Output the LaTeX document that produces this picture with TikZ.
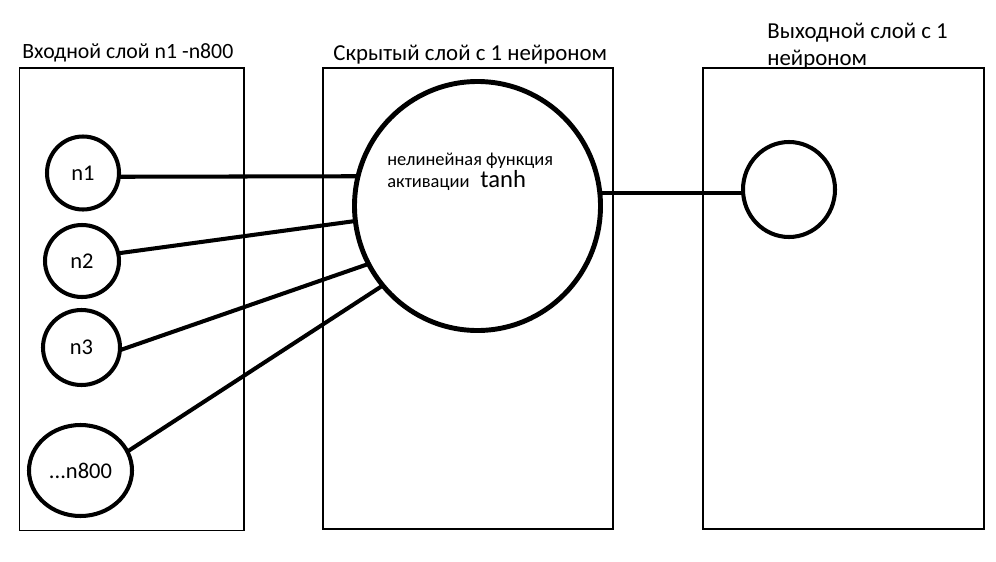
\documentclass[tikz,border=0pt]{standalone}
\usepackage{fontspec}
\setmainfont{Carlito}
\usetikzlibrary{shapes.geometric}
\begin{document}
\begin{tikzpicture}[x=0.02cm,y=-0.02cm,
  layerbox/.style={draw,line width=0.6pt},
  neuron/.style={ellipse,draw,line width=2.3pt,inner sep=0pt,outer sep=0pt,font=\fontsize{12.8}{14}\selectfont},
  conn/.style={line width=2.3pt},
  heading/.style={anchor=base west,inner sep=0pt,font=\fontsize{13}{15}\selectfont,align=left},
  small/.style={anchor=base west,inner sep=0pt,font=\fontsize{10.5}{12}\selectfont}]
\useasboundingbox (0,0) rectangle (996,561);
\fill[white] (0,0) rectangle (996,561);
% boxes
\draw[layerbox] (19.5,68) rectangle (244,530.5);
\draw[layerbox] (323,68) rectangle (613,529);
\draw[layerbox] (703,68) rectangle (984,529);
% headings
\node[heading,font=\fontsize{12.4}{14.5}\selectfont] (h1) at (22,58) {Входной слой n1 -n800};
\node[heading] (h2) at (333,60) {Скрытый слой с 1 нейроном};
\node[heading] (h3a) at (767,38) {Выходной слой с 1};
\node[heading] (h3b) at (767,65) {нейроном};
% neurons
\node[neuron,minimum width=72*0.02cm,minimum height=73*0.02cm] (n1) at (83,173) {n1};
\node[neuron,minimum width=74*0.02cm,minimum height=72*0.02cm] (n2) at (82,261) {n2};
\node[neuron,minimum width=77*0.02cm,minimum height=75*0.02cm] (n3) at (81.5,347.5) {n3};
\node[neuron,minimum width=103*0.02cm,minimum height=91*0.02cm] (n800) at (80.5,470.5) {...n800};
\node[neuron,line width=2.8pt,minimum width=246*0.02cm,minimum height=249*0.02cm] (hid) at (477.5,206) {};
\node[neuron,minimum width=92*0.02cm,minimum height=95*0.02cm] (out) at (789,189.5) {};
% text in hidden neuron
\node[small] (t1) at (387,165) {нелинейная функция};
\node[small] (t2) at (387,187) {активации};
\node[heading,font=\fontsize{14}{16}\selectfont] (t3) at (480,187) {tanh};
% connectors
\draw[conn] (n1.-6) -- (hid.166.5);
\draw[conn] (n2.12) -- (hid.187);
\draw[conn] (n3.-4) -- (hid.208);
\draw[conn] (n800.22) -- (hid.220);
\draw[conn] (hid.6.5) -- (hid.6.5 -| out.west);
\end{tikzpicture}
\end{document}
